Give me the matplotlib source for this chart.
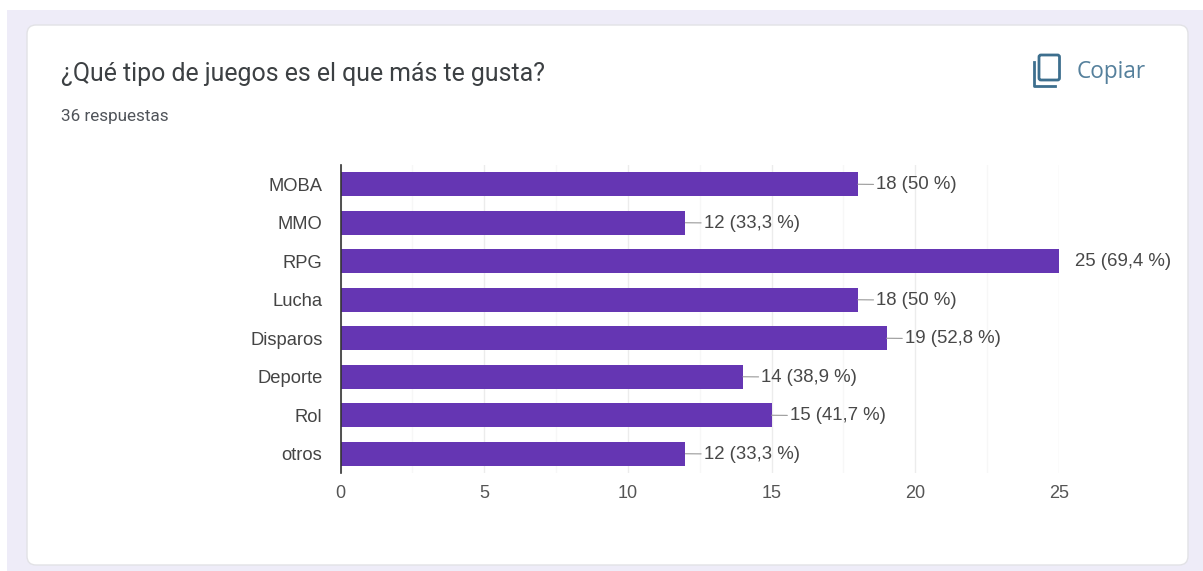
import matplotlib
matplotlib.use('Agg')
import matplotlib.pyplot as plt
from matplotlib.patches import FancyBboxPatch, Rectangle
from matplotlib.lines import Line2D

categories = ['MOBA', 'MMO', 'RPG', 'Lucha', 'Disparos', 'Deporte', 'Rol', 'otros']
counts = [18, 12, 25, 18, 19, 14, 15, 12]
percents = ['50', '33,3', '69,4', '50', '52,8', '38,9', '41,7', '33,3']
x_ticks = [0, 5, 10, 15, 20, 25]
x_minor = [2.5, 7.5, 12.5, 17.5, 22.5]

W, H = 1203, 571
fig = plt.figure(figsize=(W / 100, H / 100), dpi=100, facecolor='white')

# page layer in pixel coordinates, y pointing down
bg = fig.add_axes([0, 0, 1, 1])
bg.set_xlim(0, W)
bg.set_ylim(H, 0)
bg.axis('off')
bg.add_patch(Rectangle((7, 10), W - 7, H - 10, fc='#eeecf8', ec='none'))
bg.add_patch(FancyBboxPatch((27, 25), 1161, 540, boxstyle='round,pad=0,rounding_size=9',
                            fc='white', ec='#e2e2e6', lw=1))

bg.text(61, 81, '¿Qué tipo de juegos es el que más te gusta?', family='Roboto',
        fontsize=17.9, color='#3c4043', va='baseline')
bg.text(61, 121, '36 respuestas', family='Roboto', fontsize=12.3, color='#50545a', va='baseline')

# copy icon
icon = '#3d6f8e'
bg.add_patch(FancyBboxPatch((1039, 55), 20.5, 25, boxstyle='round,pad=0,rounding_size=2',
                            fc='none', ec=icon, lw=2))
bg.add_line(Line2D([1033.5, 1033.5, 1055], [62, 86, 86], color=icon, lw=2))
bg.text(1077, 78, 'Copiar', family='Open Sans', fontsize=16.3, color='#55809c', va='baseline')

# chart axes placed to the pixel
left, right, top, bottom = 340.5, 1059, 165, 473
ax = fig.add_axes([left / W, 1 - bottom / H, (right - left) / W, (bottom - top) / H])
ax.patch.set_alpha(0)
ax.set_xlim(0, 25)
ax.set_ylim(len(categories) - 0.5, -0.5)
ax.set_axisbelow(True)

ax.barh(categories, counts, height=0.62, color='#6536b3', edgecolor='none', zorder=2)

ax.set_xticks(x_ticks)
ax.set_xticks(x_minor, minor=True)
ax.grid(axis='x', which='major', color='#ececec', lw=1)
ax.grid(axis='x', which='minor', color='#f7f7f7', lw=1)
ax.tick_params(axis='both', which='both', length=0)
ax.tick_params(axis='x', pad=9, labelsize=13, labelcolor='#555555')
ax.tick_params(axis='y', pad=13, labelsize=13.2, labelcolor='#444444')
for label in ax.get_xticklabels() + ax.get_yticklabels():
    label.set_family('Liberation Sans')

for spine in ['top', 'right', 'bottom']:
    ax.spines[spine].set_visible(False)
ax.spines['left'].set_color('#333333')
ax.spines['left'].set_linewidth(1.2)
ax.spines['left'].set_zorder(3)

# value labels, with a leader line unless the bar reaches the axis end
for i, (n, pct) in enumerate(zip(counts, percents)):
    gap = 16 if n == max(counts) else 18.5
    arrow = None if n == max(counts) else dict(arrowstyle='-', color='#999999', lw=0.8,
                                               shrinkA=0, shrinkB=0)
    ax.annotate(f'{n} ({pct} %)', xy=(n, i), xytext=(gap * 0.72, -0.4), textcoords='offset points',
                va='center', ha='left', family='Liberation Sans', fontsize=13.4,
                color='#484848', arrowprops=arrow, annotation_clip=False, zorder=4)

fig.savefig('out.png', dpi=100)
